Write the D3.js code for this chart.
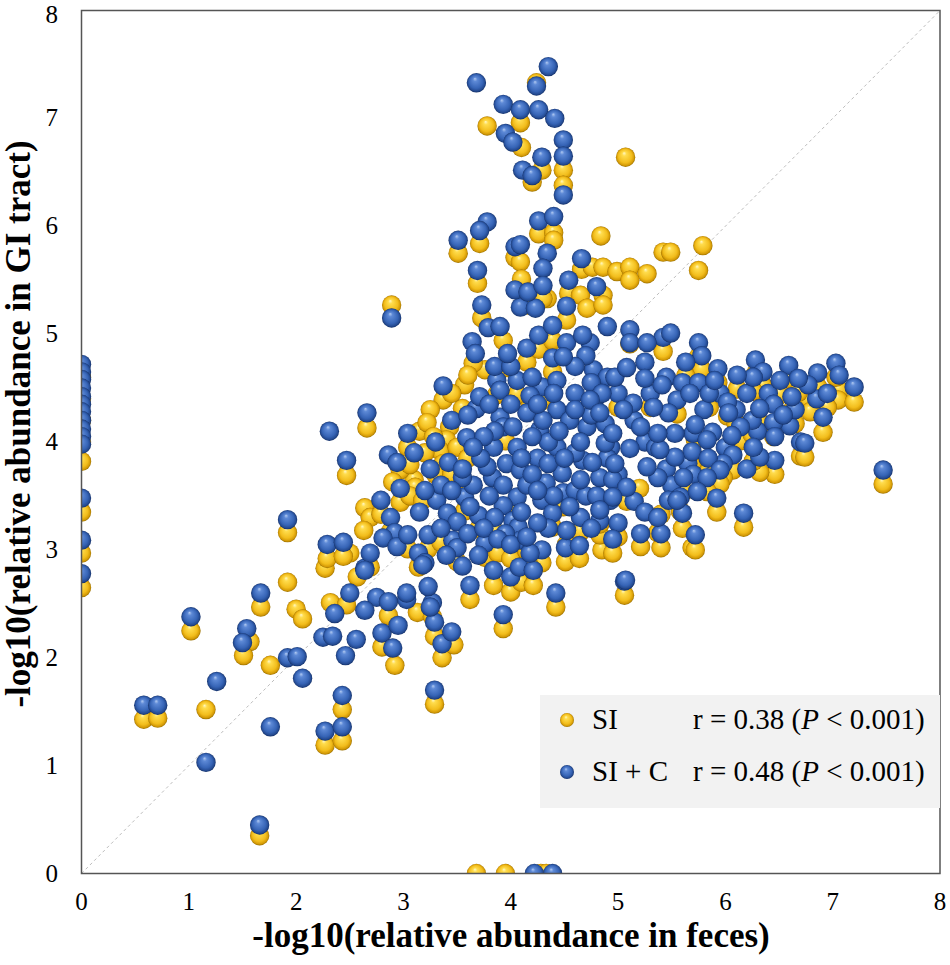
<!DOCTYPE html>
<html>
<head>
<meta charset="UTF-8">
<title>GI tract vs feces abundance</title>
<script src="https://cdn.jsdelivr.net/npm/d3@7"></script>
<style>
  body { margin: 0; background: #fff; }
</style>
</head>
<body>
<script>
// tick labels
const xTicks = [0, 1, 2, 3, 4, 5, 6, 7, 8];
const yTicks = [0, 1, 2, 3, 4, 5, 6, 7, 8];

// series: [-log10 abundance in feces, -log10 abundance in GI tract]
const siPoints = [
  [0, 4.6], [0, 4.4], [0, 4.2], [0, 4.0], [0, 3.82], [0, 3.35], [0, 2.97], [0, 2.65],
  [3.68, 0], [3.95, 0], [4.28, 0], [4.33, 0],
  [0.58, 1.43], [0.71, 1.44], [1.02, 2.25], [1.16, 1.52], [1.66, 0.35], [1.67, 2.47],
  [1.57, 2.15], [1.51, 2.02], [1.76, 1.93], [1.92, 2.70], [2.0, 2.45], [2.06, 2.36],
  [2.27, 2.83], [2.32, 2.51], [2.5, 2.97], [2.47, 2.49], [2.43, 1.52], [2.27, 1.19],
  [2.43, 1.23], [2.80, 2.10], [2.92, 1.93], [2.57, 2.75], [3.13, 2.42],
  [1.92, 3.16], [2.47, 3.69], [2.29, 2.92], [2.44, 2.94], [2.66, 4.13], [3.04, 3.95],
  [3.37, 4.39], [2.89, 5.27], [3.57, 4.53], [3.55, 4.31], [3.43, 4.14], [3.40, 4.02],
  [3.34, 3.92], [3.37, 3.80], [3.76, 4.67], [3.65, 4.73],
  [3.25, 4.30], [3.15, 4.10], [3.20, 3.90], [3.30, 3.70], [3.10, 3.65], [3.45, 4.45],
  [3.60, 4.62], [3.22, 4.18], [3.28, 4.05], [3.48, 3.62],
  [2.97, 3.74], [3.06, 3.79], [2.90, 3.63], [3.11, 3.58], [2.97, 3.44], [2.64, 3.39],
  [2.69, 3.30], [2.63, 3.18], [3.06, 3.50], [3.18, 3.46], [2.79, 3.33], [2.88, 3.17],
  [3.04, 3.01], [3.23, 3.01], [3.14, 2.84], [2.69, 2.84], [2.86, 2.39], [3.27, 2.38],
  [3.29, 1.57], [3.36, 2.00], [3.47, 2.12], [3.29, 2.20], [3.62, 2.54], [3.93, 2.27],
  [4.42, 2.47], [5.06, 2.58], [3.84, 2.67], [4.0, 2.61], [4.1, 2.70], [4.21, 2.67],
  [4.29, 2.88], [4.51, 2.89], [4.64, 2.92], [4.85, 3.0], [5.21, 3.03], [5.69, 3.02],
  [3.50, 2.89], [3.76, 2.93], [4.09, 2.97], [4.52, 3.05], [4.83, 3.14], [3.62, 3.91],
  [3.45, 3.70], [3.5, 3.95], [3.6, 3.85], [3.95, 4.01], [4.06, 3.36], [3.85, 3.17],
  [4.18, 2.84], [3.57, 3.36], [3.70, 3.19], [4.39, 3.21], [4.65, 3.17], [4.49, 3.40],
  [3.88, 2.97], [4.00, 2.92], [4.15, 2.99], [3.35, 3.07], [4.95, 2.97], [5.40, 3.02],
  [3.93, 4.94], [3.97, 4.69], [4.15, 4.74], [4.26, 4.86], [4.39, 4.94], [4.52, 5.13],
  [4.39, 4.65], [3.73, 5.15], [3.87, 4.44], [4.18, 4.36], [4.29, 4.38], [4.06, 4.44],
  [4.24, 7.33], [4.09, 6.96], [3.78, 6.93], [4.1, 6.73], [4.49, 6.52], [4.29, 6.52],
  [5.07, 6.64], [4.20, 6.41], [4.49, 6.38], [3.71, 5.84], [3.51, 5.75], [4.26, 5.93],
  [4.40, 5.94], [4.40, 5.87], [4.84, 5.91], [3.69, 5.47], [4.04, 5.71], [4.09, 5.67],
  [4.66, 5.60], [4.76, 5.62], [4.86, 5.62], [4.99, 5.58], [5.11, 5.62], [5.27, 5.56],
  [5.11, 5.50], [5.42, 5.76], [5.49, 5.76], [5.79, 5.82], [5.75, 5.59], [4.54, 5.38],
  [4.65, 5.36], [4.86, 5.36], [4.71, 5.24], [4.86, 5.27], [4.10, 5.51], [4.34, 5.33],
  [4.16, 5.27], [4.30, 5.33],
  [5.11, 4.91], [5.42, 4.84], [5.75, 4.79], [5.78, 4.67], [5.63, 4.61], [6.28, 4.63],
  [6.59, 4.58], [6.86, 4.51], [7.06, 4.48], [7.05, 4.39], [7.20, 4.37], [6.77, 4.40],
  [6.79, 4.28], [6.62, 4.29], [6.51, 4.44], [6.35, 4.52], [6.02, 4.24], [6.32, 4.18],
  [6.45, 4.05], [6.54, 4.25], [6.91, 4.09], [6.70, 3.87], [6.74, 3.86], [6.46, 3.70],
  [6.32, 3.72], [6.07, 3.74], [5.98, 3.67], [7.47, 3.61], [6.17, 3.21], [5.92, 3.35],
  [5.69, 3.78], [5.95, 3.61], [5.83, 3.54], [5.61, 3.54], [5.72, 3.0], [5.37, 3.16],
  [5.60, 3.20], [5.08, 3.45], [4.83, 3.24], [5.72, 4.02], [5.58, 3.36], [5.40, 3.33],
  [5.2, 3.57], [5.0, 3.12], [6.26, 3.82], [5.84, 3.72], [6.14, 4.01], [5.55, 4.26],
  [6.11, 4.49], [5.93, 4.55], [6.26, 4.47], [6.68, 4.46], [7.03, 4.60], [6.95, 4.32],
  [6.65, 4.17], [6.25, 4.07], [6.10, 4.17], [5.85, 4.32], [5.30, 4.32], [5.00, 4.32]
];

const sicPoints = [
  [0, 4.72], [0, 4.65], [0, 4.58], [0, 4.5], [0, 4.42], [0, 4.35], [0, 4.28], [0, 4.2],
  [0, 4.12], [0, 4.05], [0, 3.98], [0, 3.48], [0, 3.09], [0, 2.78],
  [4.22, 0], [4.39, 0],
  [0.58, 1.56], [0.71, 1.56], [1.02, 2.38], [1.26, 1.78], [1.16, 1.03], [1.66, 0.45],
  [1.67, 2.60], [1.54, 2.27], [1.50, 2.14], [1.76, 1.36], [1.92, 2.0], [2.01, 2.01],
  [2.06, 1.81], [2.43, 1.65], [2.27, 1.32], [2.43, 1.36], [2.46, 2.02], [2.56, 2.17],
  [2.25, 2.19], [2.34, 2.20], [2.36, 2.41], [2.50, 2.60], [2.64, 2.83], [2.75, 2.56],
  [2.64, 2.44], [2.80, 2.23], [2.90, 2.09], [2.95, 2.30], [3.03, 2.54],
  [2.31, 4.10], [2.47, 3.83], [1.92, 3.28], [2.29, 3.05], [2.44, 3.07], [2.66, 4.27],
  [3.04, 4.08], [3.37, 4.52], [2.89, 5.15],
  [2.86, 3.88], [2.94, 3.81], [2.97, 3.57], [2.79, 3.46], [2.88, 3.30], [2.92, 3.16],
  [2.81, 3.11], [2.94, 3.03], [3.04, 3.14], [3.23, 3.14], [3.14, 2.97], [3.20, 2.88],
  [2.69, 2.97], [2.64, 2.81], [2.86, 2.52], [3.03, 2.60], [3.27, 2.51],
  [3.29, 1.70], [3.36, 2.13], [3.45, 2.24], [3.29, 2.33], [3.25, 2.47], [3.23, 2.66],
  [3.18, 2.86], [3.62, 2.67], [3.93, 2.40], [4.42, 2.60], [5.06, 2.71], [3.84, 2.81],
  [4.0, 2.75], [4.08, 2.84], [4.21, 2.81], [4.29, 3.0], [4.51, 3.02], [4.64, 3.04],
  [3.31, 3.46], [3.41, 3.34], [3.50, 3.26], [3.46, 3.09], [3.50, 3.02], [3.57, 3.49],
  [3.65, 3.60], [3.70, 3.32], [3.83, 3.67], [3.78, 3.77], [3.84, 3.95], [3.96, 3.80],
  [4.06, 3.95], [4.09, 3.74], [3.93, 3.60], [4.06, 3.49], [3.93, 3.41], [3.85, 3.30],
  [4.02, 3.27], [3.76, 3.06], [4.07, 3.21], [4.09, 3.09], [4.18, 2.97], [4.29, 3.46],
  [4.27, 4.11], [4.43, 4.30], [4.43, 3.95], [4.48, 3.71], [4.49, 3.53], [4.39, 3.34],
  [4.52, 3.18], [4.65, 3.30], [4.71, 4.14], [4.67, 3.83], [4.80, 4.42], [4.77, 4.67],
  [4.74, 4.92], [4.90, 4.60], [4.93, 3.95], [4.83, 3.67], [4.93, 3.46], [4.83, 3.27],
  [4.88, 4.17],
  [3.42, 3.81], [3.55, 3.67], [3.59, 4.04], [3.68, 4.31], [3.71, 4.42], [3.87, 4.57],
  [3.90, 4.48], [4.06, 4.57], [4.29, 4.51], [4.43, 4.57], [4.18, 4.43], [3.90, 4.23],
  [3.93, 4.14], [4.02, 4.14],
  [4.15, 4.27], [4.25, 3.85], [4.33, 3.62], [4.15, 3.60], [4.60, 3.55], [4.60, 3.90],
  [4.55, 4.20], [4.35, 4.00], [4.20, 4.05], [4.70, 3.50], [4.60, 4.45], [4.10, 3.35],
  [4.35, 3.20], [3.95, 3.15], [4.25, 3.25], [3.60, 3.15], [3.70, 2.95], [3.55, 2.85],
  [3.40, 2.95], [3.35, 3.60], [3.20, 3.55], [3.15, 3.35], [3.10, 3.90], [3.25, 3.75],
  [3.45, 4.20], [3.30, 4.00], [3.80, 3.50], [4.75, 3.20], [5.00, 3.25], [5.15, 3.45],
  [5.00, 3.70], [5.25, 4.00], [5.45, 3.75], [5.65, 3.80], [5.80, 4.30], [5.95, 4.45],
  [6.20, 4.45], [6.40, 4.45], [6.60, 4.15], [6.85, 4.40], [6.30, 4.10],
  [3.45, 3.55], [3.62, 3.40], [3.75, 3.20], [3.88, 3.10], [4.00, 3.05], [4.15, 3.12],
  [3.72, 3.85], [3.85, 4.10], [3.75, 4.05], [3.65, 3.95], [4.10, 3.85], [4.20, 3.70],
  [4.35, 3.80], [4.50, 3.85], [4.30, 4.20], [4.45, 4.10], [4.65, 4.00], [4.75, 4.25],
  [4.60, 4.30], [4.40, 4.45], [4.25, 4.35], [4.00, 4.35], [3.80, 4.35], [4.55, 3.40],
  [4.40, 3.50], [4.25, 3.55], [4.65, 3.65], [4.80, 3.50], [4.95, 3.65], [4.90, 3.85],
  [4.75, 4.55], [5.00, 4.45], [5.15, 4.20], [5.30, 4.45], [5.45, 4.60], [5.60, 4.55],
  [5.75, 4.55], [5.85, 4.45], [6.10, 4.30], [6.25, 4.20], [6.45, 4.35], [6.65, 4.30],
  [6.95, 4.45], [5.35, 3.95], [5.50, 3.60], [5.70, 3.70], [6.00, 3.95], [6.20, 3.75],
  [5.25, 3.35], [5.40, 3.15], [4.95, 3.10], [3.55, 3.75], [3.35, 3.20], [3.60, 4.25],
  [3.85, 4.70], [4.00, 4.70], [4.20, 4.60], [4.70, 4.80], [4.60, 4.70], [4.85, 4.45],
  [3.64, 4.93], [3.67, 4.82], [3.73, 5.27], [3.79, 5.06], [3.90, 5.07], [3.97, 4.82],
  [4.15, 4.87], [4.09, 5.25], [4.23, 5.24], [4.26, 4.99], [4.39, 5.08], [4.52, 5.26],
  [4.52, 4.92], [4.67, 4.99], [4.90, 5.07], [4.39, 4.78], [4.49, 4.79],
  [4.35, 7.48], [3.68, 7.33], [4.24, 7.30], [3.93, 7.13], [4.09, 7.08], [4.26, 7.08],
  [4.41, 7.0], [3.95, 6.86], [4.02, 6.78], [4.49, 6.80], [4.49, 6.65], [4.29, 6.64],
  [4.11, 6.52], [4.20, 6.47], [4.49, 6.29], [3.78, 6.04], [3.71, 5.96], [3.51, 5.87],
  [4.26, 6.05], [4.40, 6.09], [3.69, 5.59], [4.04, 5.81], [4.09, 5.83], [4.34, 5.75],
  [4.30, 5.61], [4.66, 5.70], [4.54, 5.50], [4.80, 5.44], [4.04, 5.41], [4.16, 5.39],
  [4.30, 5.45],
  [5.11, 5.04], [5.42, 4.97], [5.49, 5.01], [5.75, 4.92], [5.11, 4.92], [5.27, 4.92],
  [5.78, 4.80], [5.63, 4.74], [5.25, 4.74], [6.28, 4.76], [6.59, 4.71], [6.86, 4.64],
  [7.03, 4.73], [7.06, 4.62], [7.20, 4.51], [6.77, 4.53], [6.68, 4.59], [6.62, 4.42],
  [6.51, 4.57], [6.35, 4.65], [6.26, 4.60], [6.11, 4.62], [5.93, 4.68], [5.90, 4.57],
  [6.02, 4.37], [6.32, 4.31], [6.45, 4.18], [6.54, 4.25], [6.91, 4.23], [6.70, 4.0],
  [6.74, 3.99], [6.46, 4.05], [6.46, 3.83], [6.32, 3.86], [6.26, 3.95], [6.07, 3.88],
  [5.98, 3.80], [7.47, 3.74], [6.17, 3.34], [5.92, 3.48], [6.14, 4.14], [6.06, 4.06],
  [6.03, 4.27], [5.88, 4.09], [5.70, 4.08], [5.83, 4.02], [5.69, 3.91], [5.84, 3.85],
  [5.95, 3.74], [5.83, 3.67], [5.61, 3.67], [5.58, 3.49], [5.74, 3.54], [5.72, 3.14],
  [5.37, 3.30], [5.60, 3.34], [5.47, 3.46], [5.55, 3.46], [5.21, 3.15], [5.07, 2.72],
  [5.37, 3.67], [5.53, 3.86], [5.39, 3.93], [5.27, 3.77], [5.08, 3.58], [4.95, 3.49],
  [4.83, 3.37], [5.41, 4.53], [5.55, 4.39], [5.67, 4.45], [5.72, 4.16], [5.53, 4.08],
  [5.37, 4.08], [5.47, 4.27], [5.14, 4.36], [5.21, 4.14], [5.11, 3.94], [4.97, 3.80],
  [4.88, 3.99], [4.76, 3.81], [4.95, 4.08], [5.05, 4.30], [4.97, 4.60], [5.08, 4.69],
  [5.25, 4.59], [4.74, 4.39], [4.83, 4.27], [5.33, 4.32]
];

const seriesNames = ["SI", "SI + C"];
const seriesR = ["0.38", "0.48"];
const seriesP = ["0.001", "0.001"];

const width = 950, height = 965;
const plot = { left: 81.5, right: 940, top: 10.5, bottom: 873.5 };
const radius = 9.7;
const serif = '"Liberation Serif", "Times New Roman", Times, serif';

const x = d3.scaleLinear().domain([0, 8]).range([plot.left, plot.right]);
const y = d3.scaleLinear().domain([0, 8]).range([plot.bottom, plot.top]);

const svg = d3.select('body')
  .append('svg')
  .attr('width', width)
  .attr('height', height)
  .attr('font-family', serif);

const defs = svg.append('defs');

function sphere(id, stops) {
  const g = defs.append('radialGradient')
    .attr('id', id)
    .attr('cx', '50%').attr('cy', '50%').attr('r', '50%')
    .attr('fx', '42%').attr('fy', '28%');
  stops.forEach(s => g.append('stop').attr('offset', s[0]).attr('stop-color', s[1]));
}
sphere('gold', [[0, '#fff8c8'], [0.22, '#ffdc4c'], [0.7, '#f2bd1c'], [0.9, '#d49a06'], [1, '#9a7000']]);
sphere('blue', [[0, '#b3cbf2'], [0.22, '#5d89d6'], [0.7, '#3664b6'], [0.9, '#244a91'], [1, '#132f66']]);

defs.append('clipPath').attr('id', 'plotclip')
  .append('rect')
  .attr('x', plot.left).attr('y', plot.top)
  .attr('width', plot.right - plot.left).attr('height', plot.bottom - plot.top);

// 1:1 reference line
svg.append('line')
  .attr('x1', x(0)).attr('y1', y(0))
  .attr('x2', x(8)).attr('y2', y(8))
  .attr('stroke', '#bdbdbd')
  .attr('stroke-width', 1)
  .attr('stroke-dasharray', '3,3');

const pts = svg.append('g').attr('clip-path', 'url(#plotclip)');

pts.append('g').selectAll('circle')
  .data(siPoints)
  .join('circle')
  .attr('cx', d => x(d[0]))
  .attr('cy', d => y(d[1]))
  .attr('r', radius)
  .attr('fill', 'url(#gold)');

pts.append('g').selectAll('circle')
  .data(sicPoints)
  .join('circle')
  .attr('cx', d => x(d[0]))
  .attr('cy', d => y(d[1]))
  .attr('r', radius)
  .attr('fill', 'url(#blue)');

// frame
svg.append('rect')
  .attr('x', plot.left).attr('y', plot.top)
  .attr('width', plot.right - plot.left).attr('height', plot.bottom - plot.top)
  .attr('fill', 'none')
  .attr('stroke', '#555')
  .attr('stroke-width', 1.5);

// tick labels
svg.append('g').selectAll('text')
  .data(xTicks)
  .join('text')
  .attr('x', d => x(d))
  .attr('y', 910)
  .attr('text-anchor', 'middle')
  .attr('font-size', 25)
  .text(d => d);

svg.append('g').selectAll('text')
  .data(yTicks)
  .join('text')
  .attr('x', 58)
  .attr('y', d => Math.max(y(d) + 8, 23))
  .attr('text-anchor', 'end')
  .attr('font-size', 25)
  .text(d => d);

// axis titles
svg.append('text')
  .attr('x', 511)
  .attr('y', 947)
  .attr('text-anchor', 'middle')
  .attr('font-size', 35)
  .attr('font-weight', 'bold')
  .text('-log10(relative abundance in feces)');

svg.append('text')
  .attr('transform', 'translate(30,424) rotate(-90)')
  .attr('text-anchor', 'middle')
  .attr('font-size', 35)
  .attr('font-weight', 'bold')
  .text('-log10(relative abundance in GI tract)');

// legend
const legend = svg.append('g');
legend.append('rect')
  .attr('x', 540).attr('y', 695)
  .attr('width', plot.right - 540).attr('height', 113)
  .attr('fill', '#f2f2f2');

const rows = legend.selectAll('g.row')
  .data(seriesNames)
  .join('g')
  .attr('class', 'row')
  .attr('transform', (d, i) => `translate(0,${720 + i * 52})`);

rows.append('circle')
  .attr('cx', 567).attr('cy', 0).attr('r', 7)
  .attr('fill', (d, i) => i === 0 ? 'url(#gold)' : 'url(#blue)');

rows.append('text')
  .attr('x', 592).attr('y', 9)
  .attr('font-size', 29)
  .text(d => d);

const stat = rows.append('text')
  .attr('x', 693).attr('y', 9)
  .attr('font-size', 29);
stat.append('tspan').text((d, i) => `r = ${seriesR[i]} (`);
stat.append('tspan').attr('font-style', 'italic').text('P');
stat.append('tspan').text((d, i) => ` < ${seriesP[i]})`);
</script>
</body>
</html>
